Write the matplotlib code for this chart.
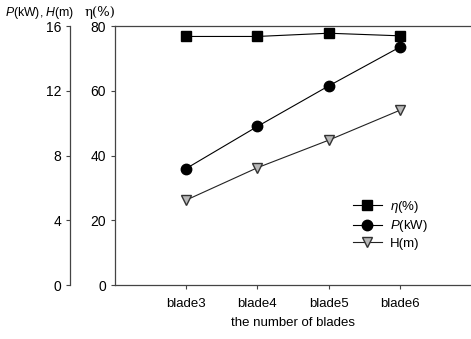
import matplotlib.pyplot as plt
import numpy as np

plt.rcParams['font.family'] = ['Liberation Sans', 'DejaVu Sans']
plt.rcParams['mathtext.fontset'] = 'custom'
plt.rcParams['mathtext.it'] = 'Liberation Sans:italic'
plt.rcParams['mathtext.rm'] = 'Liberation Sans'

blades = ["blade3", "blade4", "blade5", "blade6"]
eta = [76.8, 76.8, 77.8, 77.0]
power = [7.2, 9.8, 12.3, 14.7]
head = [5.25, 7.25, 8.95, 10.8]

x = np.arange(1, len(blades) + 1)

fig = plt.figure(figsize=(4.71, 3.39), dpi=100)
ax = fig.add_axes([0.244, 0.159, 0.756, 0.764])

ax2 = ax.twinx()
ax2.spines['right'].set_visible(False)
ax2.spines['top'].set_visible(False)
ax2.spines['bottom'].set_visible(False)
ax2.spines['left'].set_position(('axes', -0.126))
ax2.yaxis.set_ticks_position('left')
ax2.yaxis.set_label_position('left')

l1, = ax.plot(x, eta, color='black', lw=0.8, marker='s', ms=7, label=r'$\eta$(%)')
l2, = ax2.plot(x, power, color='black', lw=0.8, marker='o', ms=7.5, label=r'$P$(kW)')
l3, = ax2.plot(x, head, color='#222222', lw=0.8, marker='v', ms=7,
               markerfacecolor='#b8b8b8', markeredgecolor='#333333', label='H(m)')

ax.set_xlim(0, 5)
ax.set_ylim(0, 80)
ax2.set_ylim(0, 16)
ax.set_yticks([0, 20, 40, 60, 80])
ax2.set_yticks([0, 4, 8, 12, 16])
ax.set_xticks(x)
ax.set_xticklabels(blades)
ax.spines['right'].set_visible(False)
for a in (ax, ax2):
    for s in a.spines.values():
        s.set_color('#444444')
        s.set_linewidth(0.9)
    a.tick_params(labelsize=10, length=3, width=0.8, color='#444444')
ax.tick_params(axis='x', labelsize=9.5, pad=6)

ax.set_xlabel('the number of blades', fontsize=9.5, labelpad=5)
fig.text(0.01, 0.962, r'$P$(kW), $H$(m)', fontsize=8.8, va='center', ha='left')
fig.text(0.18, 0.962, 'η(%)', fontsize=9.5, va='center', ha='left', family=['DejaVu Serif'])

ax.legend(handles=[l1, l2, l3], loc='lower left', bbox_to_anchor=(0.724, 0.228),
          bbox_transform=fig.transFigure, frameon=False, fontsize=9.5,
          handlelength=2.2, labelspacing=0.25, handletextpad=0.6)

fig.savefig('out.png', dpi=100)
